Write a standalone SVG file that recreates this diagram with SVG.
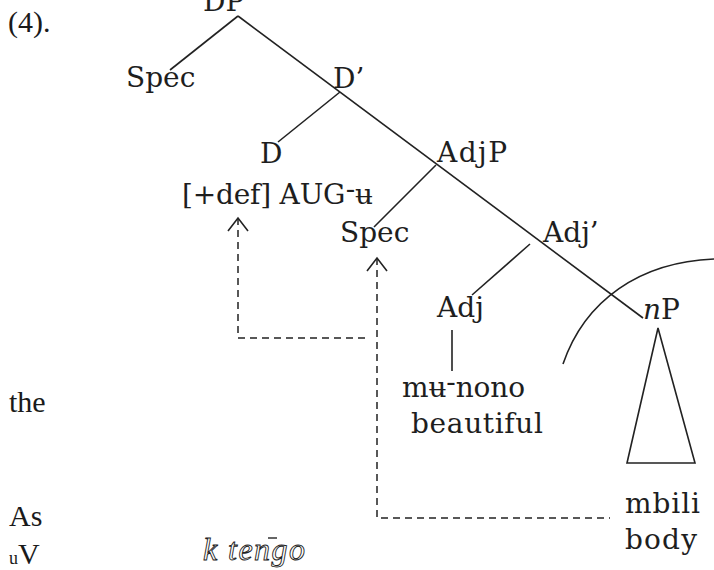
<svg xmlns="http://www.w3.org/2000/svg" width="714" height="570" viewBox="0 0 714 570">
<style>
.l{stroke:#222;stroke-width:1.6;fill:none}
.d{stroke:#222;stroke-width:1.5;fill:none;stroke-dasharray:7 5}
</style>
<defs>
<marker id="ah" markerUnits="userSpaceOnUse" viewBox="-15 -12 17 24" markerWidth="17" markerHeight="24" refX="0" refY="0" orient="auto-start-reverse">
<path d="M-13,-10 L0,0 L-13,10" fill="none" stroke="#222" stroke-width="1.6"/>
</marker>
</defs>
<rect width="714" height="570" fill="#fff"/>
<g id="body-text" font-family="Liberation Serif, Times New Roman, serif" font-size="30" fill="#1a1a1a">
<text x="8" y="32">(4).</text>
<text x="9" y="412">the</text>
<text x="9" y="526">As</text>
<text x="9" y="564" font-size="18">u</text>
<text x="18" y="564">V</text>
<text x="203" y="560" textLength="102" font-style="italic" font-size="32" fill="#fff" stroke="#222" stroke-width="0.9">k tengo</text>
<line x1="268" y1="538" x2="277" y2="538" stroke="#333" stroke-width="1.5"/>
</g>
<g id="connectors">
<line class="l" x1="238" y1="16" x2="643" y2="318"/>
<line class="l" x1="238" y1="16" x2="170" y2="70"/>
<line class="l" x1="340" y1="92" x2="278" y2="142"/>
<line class="l" x1="436" y1="165" x2="374" y2="227"/>
<line class="l" x1="530" y1="244" x2="472" y2="295"/>
<line class="l" x1="452" y1="330" x2="452" y2="371"/>
<polygon class="l" points="658,328 627,463 695,463"/>
<path class="l" d="M563,364 C585,300 640,262 714,259"/>
<path class="d" d="M238,218 V338 H370" marker-start="url(#ah)"/>
<path class="d" d="M377,258 V518 H610" marker-start="url(#ah)"/>
</g>
<g id="nodes" font-family="DejaVu Serif, Liberation Serif, serif" font-size="28" fill="#1e1e1e">
<g id="DP"><text x="203" y="11">DP</text></g>
<g id="Spec1"><text x="126" y="87">Spec</text></g>
<g id="Dbar"><text x="333" y="88">D’</text></g>
<g id="D"><text x="260" y="163">D</text></g>
<g id="AdjP"><text x="437" y="162" textLength="70">AdjP</text></g>
<g id="D-features"><text x="182" y="204" textLength="191">[+def] AUG<tspan dy="-6">-</tspan><tspan dy="6">ʉ</tspan></text></g>
<g id="Spec2"><text x="340" y="242">Spec</text></g>
<g id="Adjbar"><text x="543" y="242">Adj’</text></g>
<g id="Adj"><text x="437" y="317">Adj</text></g>
<g id="munono"><text x="402" y="397" textLength="123">mʉ<tspan dy="-6">-</tspan><tspan dy="6">nono</tspan></text></g>
<g id="beautiful"><text x="411" y="433" textLength="132">beautiful</text></g>
<g id="nP"><text x="643" y="319"><tspan font-style="italic">n</tspan>P</text></g>
<g id="mbili"><text x="625" y="513" textLength="75">mbili</text></g>
<g id="body"><text x="625" y="549" textLength="72">body</text></g>
</g>
</svg>
